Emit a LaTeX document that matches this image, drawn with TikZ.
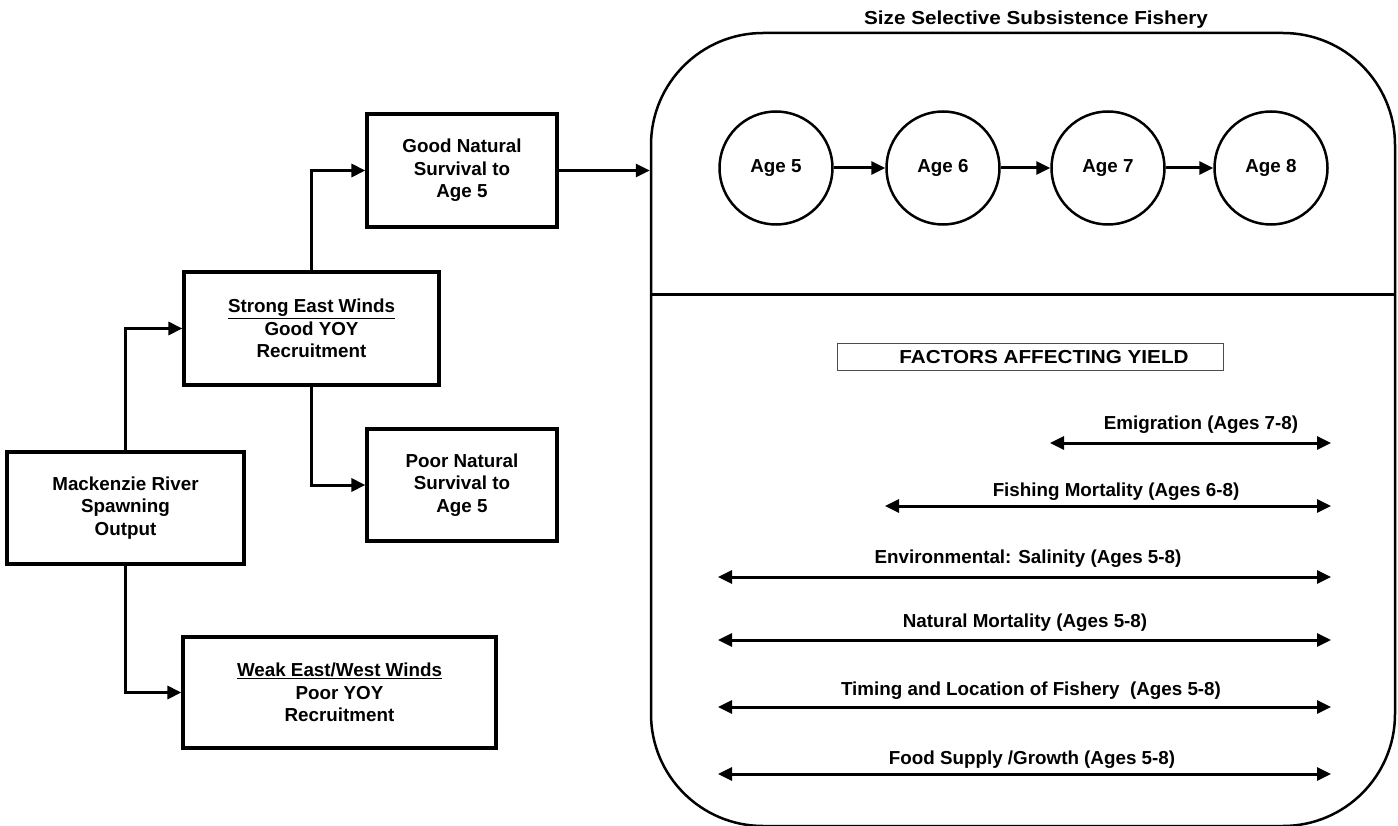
\documentclass[tikz,border=0pt]{standalone}
\usepackage{fontspec}
\setmainfont{Liberation Sans}
\usetikzlibrary{arrows.meta}
\newcommand{\fsz}{\bfseries\fontsize{18.8}{22.5}\selectfont}
\tikzset{
  box/.style={draw, line width=3.2pt, align=center, font=\fsz, inner sep=0pt},
  conn/.style={line width=3pt, -{Triangle[length=14pt,width=13pt]}},
  agebox/.style={draw, circle, line width=2.5pt, minimum size=113pt, inner sep=0pt, font=\fsz},
  factor/.style={line width=3pt, {Triangle[length=14pt,width=13pt]}-{Triangle[length=14pt,width=13pt]}},
  lbl/.style={font=\fsz, inner sep=0pt}
}
\begin{document}
\begin{tikzpicture}[x=1pt,y=-1pt]
\useasboundingbox (0,0) rectangle (1398,826);
% left flow
\node[box, minimum width=237pt, minimum height=112pt] (mack) at (125.5,508) {Mackenzie River\\Spawning\\Output};
\node[box, minimum width=255pt, minimum height=113pt] (strong) at (311.5,328.5) {\underline{Strong East Winds}\\Good YOY\\Recruitment};
\node[box, minimum width=190pt, minimum height=113pt] (good) at (462,170.5) {Good Natural\\Survival to\\Age 5};
\node[box, minimum width=190pt, minimum height=112pt] (poor) at (462,485) {Poor Natural\\Survival to\\Age 5};
\node[box, minimum width=313pt, minimum height=111pt] (weak) at (339.5,692.5) {\underline{Weak East/West Winds}\\Poor YOY\\Recruitment};
\draw[conn] (mack.north) |- (strong.west);
\draw[conn] (mack.south) |- (weak.west);
\draw[conn] (strong.north) |- (good.west);
\draw[conn] (strong.south) |- (poor.west);
% fishery
\node[draw, line width=2.5pt, rounded corners=112pt, minimum width=744pt, minimum height=793pt, inner sep=0pt] (fish) at (1023,429.5) {};
\node[lbl] (title) at (1036,20) {\scalebox{1.1}[1]{Size Selective Subsistence Fishery}};
\draw[conn] (good.east) -- (good.east -| fish.west);
\coordinate (divL) at (651,295);
\coordinate (divR) at (1395,295);
\draw[line width=3pt] (divL) -- (divR);
\node[agebox] (a5) at (776,168) {Age 5};
\node[agebox] (a6) at (943,168) {Age 6};
\node[agebox] (a7) at (1108,168) {Age 7};
\node[agebox] (a8) at (1271,168) {Age 8};
\draw[conn] (a5) -- (a6);
\draw[conn] (a6) -- (a7);
\draw[conn] (a7) -- (a8);
% factors
\node[draw=black!70, line width=1pt, minimum width=386pt, minimum height=27pt, inner sep=0pt, font=\fsz] (fac) at (1030,357.5) {\hspace{28pt}\scalebox{1.1}[1]{FACTORS AFFECTING YIELD}};
\coordinate (emL) at (1050,443); \coordinate (emR) at (1331,443);
\coordinate (fmL) at (885,506); \coordinate (fmR) at (1331,506);
\coordinate (enL) at (718,577); \coordinate (enR) at (1331,577);
\coordinate (nmL) at (718,640); \coordinate (nmR) at (1331,640);
\coordinate (tiL) at (718,707); \coordinate (tiR) at (1331,707);
\coordinate (foL) at (718,774); \coordinate (foR) at (1331,774);
\draw[factor] (emL) -- (emR);
\draw[factor] (fmL) -- (fmR);
\draw[factor] (enL) -- (enR);
\draw[factor] (nmL) -- (nmR);
\draw[factor] (tiL) -- (tiR);
\draw[factor] (foL) -- (foR);
\node[lbl] (emT) at (1201,425) {Emigration (Ages 7-8)};
\node[lbl] (fmT) at (1116,492) {Fishing Mortality (Ages 6-8)};
\node[lbl] (enT) at (1028,559) {Environmental: Salinity (Ages 5-8)};
\node[lbl] (nmT) at (1025,623) {Natural Mortality (Ages 5-8)};
\node[lbl] (tiT) at (1031,691) {Timing and Location of Fishery \ (Ages 5-8)};
\node[lbl] (foT) at (1032,760) {Food Supply /Growth (Ages 5-8)};
\end{tikzpicture}
\end{document}
